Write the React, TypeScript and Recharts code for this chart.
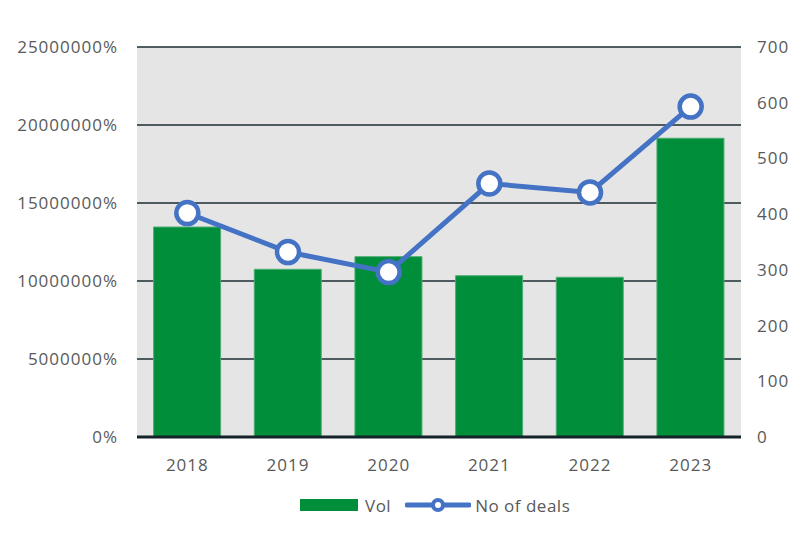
import { ComposedChart, Bar, Line, XAxis, YAxis, CartesianGrid, Legend } from 'recharts';

// values
const years = ['2018', '2019', '2020', '2021', '2022', '2023'];
const vol = [13460000, 10750000, 11560000, 10340000, 10240000, 19150000];
const deals = [402, 332, 296, 455, 439, 593];
const leftTicks = [0, 5000000, 10000000, 15000000, 20000000, 25000000];
const rightTicks = [0, 100, 200, 300, 400, 500, 600, 700];

const data = years.map((year, i) => ({ year, vol: vol[i], deals: deals[i] }));

const FONT = '"Open Sans", sans-serif';
const tickStyle = { fill: '#595959', fontSize: 17, fontFamily: FONT, letterSpacing: 1 };

const renderLegend = () => (
  <div style={{ display: 'flex', justifyContent: 'flex-start', alignItems: 'center', fontFamily: FONT, fontSize: 17, color: '#595959', letterSpacing: 0.5, paddingLeft: 299 }}>
    <svg width={60} height={14} style={{ marginRight: 6 }}>
      <rect x={1} y={1} width={58} height={12} fill="#008e3a" />
    </svg>
    <span style={{ marginRight: 14 }}>Vol</span>
    <svg width={66} height={24} style={{ marginRight: 4 }}>
      <line x1={2} y1={12} x2={64} y2={12} stroke="#4472c4" strokeWidth={5} strokeLinecap="round" />
      <circle cx={33} cy={12} r={5} fill="#fff" stroke="#4472c4" strokeWidth={4} />
    </svg>
    <span>No of deals</span>
  </div>
);

export default function App() {
  return (
    <div style={{ position: 'absolute', left: 0, top: 0, background: '#fff' }}>
      <ComposedChart width={808} height={547} data={data} margin={{ top: 47, right: 0, left: 0, bottom: 0 }} barCategoryGap="16.5%">
        <CartesianGrid yAxisId="left" vertical={false} fill="#e5e5e5" stroke="#1c2b33" strokeWidth={1.5} strokeOpacity={1} />
        <XAxis
          dataKey="year"
          height={62}
          tickSize={0}
          tickMargin={22}
          tick={tickStyle}
          axisLine={{ stroke: '#14222a', strokeWidth: 3 }}
        />
        <YAxis
          yAxisId="left"
          width={137}
          domain={[0, 25000000]}
          ticks={leftTicks}
          interval={0}
          tickSize={0}
          tickMargin={19}
          axisLine={false}
          tick={tickStyle}
          tickFormatter={(v) => `${v}%`}
        />
        <YAxis
          yAxisId="right"
          orientation="right"
          width={67}
          domain={[0, 700]}
          ticks={rightTicks}
          interval={0}
          tickSize={0}
          tickMargin={16}
          axisLine={false}
          tick={tickStyle}
        />
        <Legend verticalAlign="bottom" height={48} content={renderLegend} wrapperStyle={{ bottom: 6, left: 0, width: 808 }} />
        <Bar yAxisId="left" dataKey="vol" name="Vol" fill="#008e3a" stroke="#4cae72" strokeWidth={1} isAnimationActive={false} />
        <Line
          yAxisId="right"
          dataKey="deals"
          name="No of deals"
          type="linear"
          stroke="#4472c4"
          strokeWidth={5}
          dot={{ r: 11, fill: '#fff', stroke: '#4472c4', strokeWidth: 4.5 }}
          activeDot={false}
          isAnimationActive={false}
        />
      </ComposedChart>
    </div>
  );
}
